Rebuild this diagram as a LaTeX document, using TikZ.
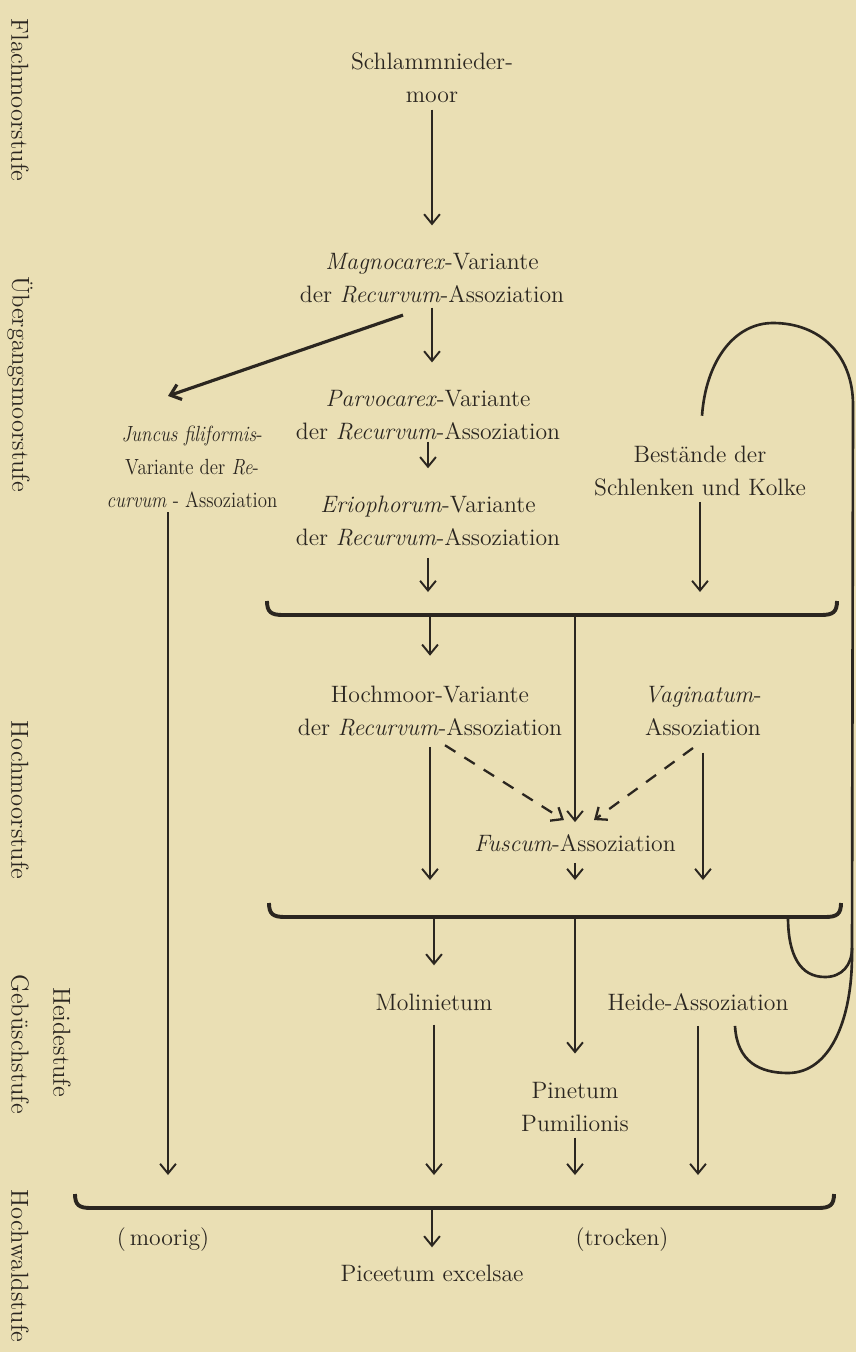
\documentclass[tikz,border=0pt]{standalone}
\usepackage{fontspec}
\usepackage{tikz}
\usetikzlibrary{arrows.meta}
\definecolor{Paper}{HTML}{EADFB4}
\definecolor{Ink}{HTML}{2B2620}

\begin{document}
\begin{tikzpicture}[x=0.02cm,y=-0.02cm,
    every node/.style={text=Ink},
    stage/.style={font=\fontsize{13.5}{18.7}\selectfont,align=center,inner sep=0pt},
    juncusbox/.style={font=\fontsize{12.5}{18.7}\selectfont,align=center,inner sep=0pt,
      xscale=0.86,transform shape},
    side/.style={font=\fontsize{14}{16}\selectfont,rotate=-90,inner sep=0pt},
    arr/.style={draw=Ink,line width=1.1pt,-{Straight Barb[length=5.5pt,width=9pt]}},
    dasharr/.style={arr,line width=1.3pt,dash pattern=on 7pt off 6pt},
    brace/.style={draw=Ink,line width=2.2pt},
    loopline/.style={draw=Ink,line width=1.5pt}]
  \useasboundingbox (0,0) rectangle (856,1352);
  \fill[Paper] (0,0) rectangle (856,1352);

  % stages on the left margin
  \node[side] (flach) at (20,100) {Flachmoorstufe};
  \node[side] (uebergang) at (20,384) {Übergangsmoorstufe};
  \node[side] (hochmoor) at (20,800) {Hochmoorstufe};
  \node[side] (gebuesch) at (20,1044) {Gebüschstufe};
  \node[side] (heidest) at (62,1042) {Heidestufe};
  \node[side] (hochwald) at (20,1266) {Hochwaldstufe};

  % associations
  \node[stage] (schlamm) at (432,78) {Schlammnieder-\\moor};
  \node[stage] (magno) at (432,278) {\textit{Magnocarex}-Variante\\der \textit{Recurvum}-Assoziation};
  \node[stage] (parvo) at (428,415) {\textit{Parvocarex}-Variante\\der \textit{Recurvum}-Assoziation};
  \node[juncusbox] (juncus) at (192,467) {\textit{Juncus filiformis}-\\Variante der \textit{Re}-\\\textit{curvum} - Assoziation};
  \node[stage] (erio) at (428,521) {\textit{Eriophorum}-Variante\\der \textit{Recurvum}-Assoziation};
  \node[stage] (bestand) at (700,471) {Bestände der\\Schlenken und Kolke};
  \node[stage] (hochvar) at (430,711) {Hochmoor-Variante\\der \textit{Recurvum}-Assoziation};
  \node[stage] (vagin) at (703,711) {\textit{Vaginatum}-\\Assoziation};
  \node[stage] (fuscum) at (575,843) {\textit{Fuscum}-Assoziation};
  \node[stage] (molin) at (434,1002) {Molinietum};
  \node[stage] (heide) at (698,1002) {Heide-Assoziation};
  \node[stage] (pinet) at (575,1107) {Pinetum\\Pumilionis};
  \node[stage] (moorig) at (163,1240) {(\,moorig)};
  \node[stage] (trocken) at (622,1240) {(trocken)};
  \node[stage] (picee) at (432,1273) {Piceetum excelsae};

  % brackets
  \coordinate (br1) at (0,615);
  \coordinate (in1) at (0,592);
  \coordinate (br2) at (0,917);
  \coordinate (in2) at (0,880);
  \coordinate (br3) at (0,1208);
  \coordinate (in3) at (0,1175);
  \foreach \yy/\xl/\xr in {615/267/837, 917/269/841, 1208/75/834}
    \draw[brace] (\xl,\yy-14) .. controls (\xl,\yy-3) and (\xl+4,\yy) .. (\xl+16,\yy)
      -- (\xr-16,\yy) .. controls (\xr-4,\yy) and (\xr,\yy-3) .. (\xr,\yy-14);

  % connectors
  \draw[arr,shorten <=0.13cm,shorten >=0.55cm] (schlamm) -- (magno);
  \draw[arr,shorten <=0.09cm,shorten >=0.55cm] (magno.south) -- (magno.south |- parvo.north);
  \draw[arr,line width=1.8pt] ([shift={(-29,12)}]magno.south) -- ([shift={(-24,-30)}]juncus.north);
  \draw[arr,shorten <=0.03cm,shorten >=0.55cm] (parvo.south) -- (parvo.south |- erio.north);
  \draw[arr,shorten <=0.23cm] (erio.south) -- (erio.south |- in1);
  \draw[arr,shorten <=0.11cm] (bestand.south) -- (bestand.south |- in1);
  \draw[arr,shorten >=0.6cm] (hochvar.north |- br1) -- (hochvar.north);
  \draw[arr,shorten >=0.24cm] (fuscum.north |- br1) -- (fuscum.north);
  \draw[arr,shorten <=0.21cm] (hochvar.south) -- (hochvar.south |- in2);
  \draw[arr,shorten <=0.33cm] (vagin.south) -- (vagin.south |- in2);
  \draw[dasharr] ([shift={(15,9)}]hochvar.south) -- ([shift={(-11,-14)}]fuscum.north);
  \draw[dasharr] ([shift={(-10,12)}]vagin.south) -- ([shift={(19,-14)}]fuscum.north);
  \draw[arr,shorten <=0.22cm] (fuscum.south) -- (fuscum.south |- in2);
  \draw[arr,shorten >=0.56cm] (molin.north |- br2) -- (molin.north);
  \draw[arr,shorten >=0.57cm] (pinet.north |- br2) -- (pinet.north);
  \draw[arr,shorten <=0.28cm] (molin.south) -- (molin.south |- in3);
  \draw[arr,shorten <=0.3cm] (heide.south) -- (heide.south |- in3);
  \draw[arr,shorten <=0.11cm] (pinet.south) -- (pinet.south |- in3);
  \draw[arr,shorten <=0.08cm] ([shift={(-24,0)}]juncus.south) -- ([shift={(-24,0)}]juncus.south |- in3);
  \draw[arr,shorten >=0.34cm] (picee.north |- br3) -- (picee.north);

  % return loops
  \draw[loopline] ([shift={(37,15)}]heide.south) .. controls (737,1062) and (760,1073) .. (788,1073)
    .. controls (830,1073) and (852,1020) .. (852,955) -- (853,405)
    .. controls (853,355) and (820,323) .. (773,323)
    .. controls (735,323) and (706,360) .. ([shift={(2,-30)}]bestand.north);
  \draw[loopline] (788,917) .. controls (788,955) and (800,977) .. (825,977)
    .. controls (842,977) and (852,965) .. (852,948);
\end{tikzpicture}
\end{document}
